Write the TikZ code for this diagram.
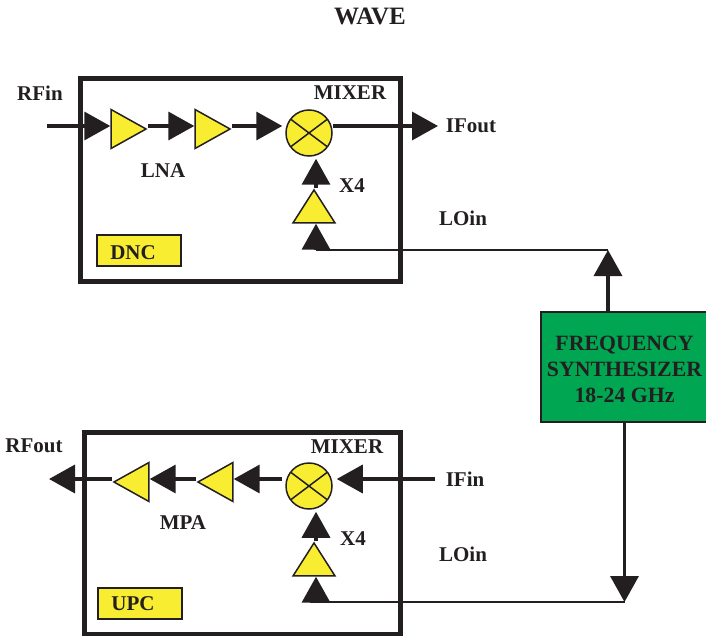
\documentclass[tikz,border=0pt]{standalone}
\usepackage{fontspec}
\setmainfont{Liberation Serif}
\usetikzlibrary{arrows.meta,shapes.geometric,calc}
\definecolor{ink}{HTML}{231F20}
\definecolor{ampyellow}{HTML}{F9ED32}
\definecolor{synthgreen}{HTML}{00A651}
\tikzset{
  lbl/.style={font=\bfseries\fontsize{21}{26}\selectfont,text=ink,inner sep=0pt,align=center},
  modbox/.style={draw=ink,line width=5pt},
  tagbox/.style={draw=ink,fill=ampyellow,line width=2pt},
  amp/.style={isosceles triangle,isosceles triangle stretches,draw=ink,fill=ampyellow,line width=1.5pt,
    inner sep=0pt,minimum height=35pt,minimum width=39pt,anchor=apex},
  mult/.style={amp,minimum height=33pt,minimum width=42pt,shape border rotate=90},
  mixer/.style={circle,draw=ink,fill=ampyellow,line width=1.5pt,inner sep=0pt,minimum size=46pt,
    path picture={\draw[ink,line width=1.5pt] (path picture bounding box.center)++(143:30pt)--++(-37:60pt);
      \draw[ink,line width=1.5pt] (path picture bounding box.center)++(37:30pt)--++(217:60pt);}},
  sig/.style={draw=ink,line width=3.5pt,-{Triangle[length=26pt,width=28pt]}},
  feed/.style={draw=ink,line width=1.5pt},
}
\begin{document}
\begin{tikzpicture}[x=1pt,y=-1pt]
\useasboundingbox (0,0) rectangle (706,636);
\node[lbl] (title) at (370,16) {\fontsize{25}{26}\selectfont WAVE};
% down converter
\node[modbox,minimum width=320pt,minimum height=202pt,inner sep=0pt] (dnc) at (240,180) {};
\node[amp] (amp1) at (148,129) {};
\node[amp] (amp2) at (232,129) {};
\node[mixer] (mix1) at (309,133) {};
\node[mult] (mult1) at (314,188) {};
\node[tagbox,minimum width=84pt,minimum height=30pt,inner sep=0pt] (dnctag) at (138.5,250.5) {};
\node[lbl] (dnctxt) at (133,253) {DNC};
\node[lbl] (rfin) at (40,93) {RFin};
\node[lbl] (mixlbl1) at (350,93) {MIXER};
\node[lbl] (lna) at (163,171) {LNA};
\node[lbl] (x41) at (352,186) {X4};
\node[lbl] (lo1lbl) at (463,218) {LOin};
\node[lbl] (ifout) at (471,126) {IFout};
% up converter
\node[modbox,minimum width=316pt,minimum height=202pt,inner sep=0pt] (upc) at (242,533) {};
\node[amp,shape border rotate=180] (amp3) at (112,482) {};
\node[amp,shape border rotate=180] (amp4) at (196,482) {};
\node[mixer] (mix2) at (309,486) {};
\node[mult] (mult2) at (314,541) {};
\node[tagbox,minimum width=84pt,minimum height=31pt,inner sep=0pt] (upctag) at (139.5,603) {};
\node[lbl] (upctxt) at (133,604) {UPC};
\node[lbl] (rfout) at (34,446) {RFout};
\node[lbl] (mixlbl2) at (347,447) {MIXER};
\node[lbl] (mpa) at (183,523) {MPA};
\node[lbl] (x42) at (353,539) {X4};
\node[lbl] (lo2lbl) at (463,554) {LOin};
\node[lbl] (ifin) at (465,479) {IFin};
% synthesizer
\node[draw=ink,fill=synthgreen,line width=1.5pt,minimum width=166pt,minimum height=110pt] (synth) at (624,367) {};
\node[lbl,font=\bfseries\fontsize{21.8}{26}\selectfont] (synthtxt) at (624.5,369.5) {FREQUENCY\\SYNTHESIZER\\18-24 GHz};
\coordinate (rfstart) at (47,126);
\coordinate (ifend) at (438,126);
\coordinate (lo1) at (316,250);
\coordinate (lotop) at (608,250);
\coordinate (ifstart) at (435,479);
\coordinate (rfend) at (49,479);
\coordinate (lo2) at (310,602);
\coordinate (lo2up) at (316,602);
\coordinate (lobot) at (624.5,602);
% connectors
\draw[sig] (rfstart)--(amp1.lower side |- rfstart);
\draw[sig] (amp1.apex |- rfstart)--(amp2.lower side |- rfstart);
\draw[sig,shorten >=3pt] (amp2.apex |- rfstart)--(mix1.west |- rfstart);
\draw[sig] (mix1.east |- ifend)--(ifend);
\draw[sig] (lo1)--(lo1 |- mult1.lower side);
\draw[sig,shorten >=2pt] (lo1 |- mult1.apex)--(lo1 |- mix1.south);
\draw[feed] (lo1)--(lotop);
\draw[sig] (synth.north -| lotop)--(lotop);
\draw[sig,shorten >=4pt] (ifstart)--(mix2.east |- ifstart);
\draw[sig,shorten <=3pt] (mix2.west |- ifstart)--(amp4.lower side |- ifstart);
\draw[sig] (amp4.apex |- ifstart)--(amp3.lower side |- ifstart);
\draw[sig] (amp3.apex |- ifstart)--(rfend);
\draw[sig] (lo2up)--(lo2up |- mult2.lower side);
\draw[sig,shorten >=2pt] (lo2up |- mult2.apex)--(lo2up |- mix2.south);
\draw[feed] (lo2)--(lobot);
\draw[sig] (synth.south -| lobot)--(lobot);
\end{tikzpicture}
\end{document}
